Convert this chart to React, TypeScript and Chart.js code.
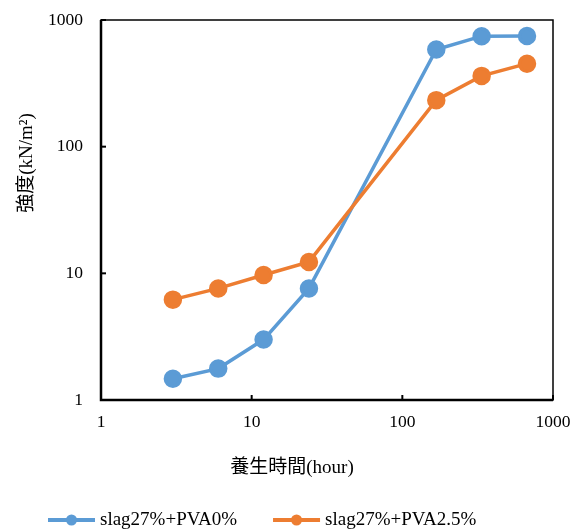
import React, { useEffect, useRef } from 'react';
import { Chart, registerables } from 'chart.js';

Chart.register(...registerables);

const hours = [3, 6, 12, 24, 168, 336, 672];
const pva0 = [1.47, 1.77, 3.0, 7.6, 585, 745, 748];
const pva25 = [6.2, 7.6, 9.7, 12.3, 233, 362, 452];
const tickValues = [1, 10, 100, 1000];
const seriesNames = ['slag27%+PVA0%', 'slag27%+PVA2.5%'];
const xTitle = '養生時間(hour)';
const yTitle = '強度(kN/m²)';

const BLUE = '#5B9BD5';
const ORANGE = '#ED7D31';
const FAMILY = "'Liberation Serif', 'Times New Roman', 'Noto Sans CJK JP', serif";
const colors = [BLUE, ORANGE];

const decorPlugin = {
  id: 'decor',
  beforeDatasetsDraw(chart: any) {
    const { ctx, chartArea: a, scales } = chart;
    ctx.save();
    ctx.strokeStyle = '#000';
    ctx.lineWidth = 1.5;
    ctx.strokeRect(a.left, a.top, a.right - a.left, a.bottom - a.top);
    ctx.lineWidth = 2.5;
    ctx.beginPath();
    ctx.moveTo(a.left, a.top);
    ctx.lineTo(a.left, a.bottom);
    ctx.lineTo(a.right, a.bottom);
    ctx.stroke();
    ctx.lineWidth = 2;
    tickValues.forEach((v) => {
      const px = scales.x.getPixelForValue(v);
      ctx.beginPath();
      ctx.moveTo(px, a.bottom);
      ctx.lineTo(px, a.bottom - 5);
      ctx.stroke();
      const py = scales.y.getPixelForValue(v);
      ctx.beginPath();
      ctx.moveTo(a.left, py);
      ctx.lineTo(a.left + 5, py);
      ctx.stroke();
    });
    ctx.restore();
  },
  afterDraw(chart: any) {
    const { ctx } = chart;
    ctx.save();
    ctx.fillStyle = '#000';
    ctx.font = `19px ${FAMILY}`;
    ctx.textAlign = 'center';
    ctx.textBaseline = 'middle';
    ctx.fillText(xTitle, 292, 468);
    ctx.save();
    ctx.translate(27, 163);
    ctx.rotate(-Math.PI / 2);
    ctx.fillText(yTitle, 0, 0);
    ctx.restore();

    // legend
    let x = 48;
    const y = 520;
    ctx.textAlign = 'left';
    seriesNames.forEach((name, i) => {
      ctx.strokeStyle = colors[i];
      ctx.fillStyle = colors[i];
      ctx.lineWidth = 4;
      ctx.beginPath();
      ctx.moveTo(x, y);
      ctx.lineTo(x + 47, y);
      ctx.stroke();
      ctx.beginPath();
      ctx.arc(x + 23.5, y, 5.5, 0, Math.PI * 2);
      ctx.fill();
      ctx.fillStyle = '#000';
      ctx.fillText(name, x + 52, y);
      x += 52 + ctx.measureText(name).width + 36;
    });
    ctx.restore();
  },
};

export default function App() {
  const ref = useRef<HTMLCanvasElement | null>(null);
  useEffect(() => {
    document.body.style.margin = '0';
    const canvas = ref.current!;
    const tickFont = { family: FAMILY, size: 17.5 };
    const chart = new Chart(canvas, {
      type: 'line',
      data: {
        datasets: [
          {
            label: seriesNames[0],
            data: hours.map((h, i) => ({ x: h, y: pva0[i] })),
            borderColor: BLUE,
            backgroundColor: BLUE,
            pointBackgroundColor: BLUE,
            pointBorderColor: BLUE,
            pointRadius: 7.5,
            borderWidth: 3.5,
            tension: 0,
            order: 1,
          },
          {
            label: seriesNames[1],
            data: hours.map((h, i) => ({ x: h, y: pva25[i] })),
            borderColor: ORANGE,
            backgroundColor: ORANGE,
            pointBackgroundColor: ORANGE,
            pointBorderColor: ORANGE,
            pointRadius: 7.5,
            borderWidth: 3.5,
            tension: 0,
            order: 0,
          },
        ],
      },
      options: {
        responsive: false,
        animation: false,
        layout: { padding: { left: 0, top: 20, right: 27, bottom: 0 } },
        plugins: { legend: { display: false }, tooltip: { enabled: false } },
        scales: {
          x: {
            type: 'logarithmic',
            min: 1,
            max: 1000,
            afterBuildTicks: (s: any) => {
              s.ticks = tickValues.map((v) => ({ value: v }));
            },
            afterFit: (s: any) => {
              s.height = 130;
              s.paddingLeft = 0;
              s.paddingRight = 0;
              s.paddingTop = 0;
              s.paddingBottom = 0;
            },
            grid: { display: false, drawTicks: false },
            border: { display: false },
            ticks: {
              padding: 12,
              font: tickFont,
              color: '#000',
              autoSkip: false,
              maxRotation: 0,
              callback: (v: any) => String(v),
            },
          },
          y: {
            type: 'logarithmic',
            min: 1,
            max: 1000,
            afterBuildTicks: (s: any) => {
              s.ticks = tickValues.map((v) => ({ value: v }));
            },
            afterFit: (s: any) => {
              s.width = 101;
              s.paddingLeft = 0;
              s.paddingRight = 0;
              s.paddingTop = 0;
              s.paddingBottom = 0;
            },
            grid: { display: false, drawTicks: false },
            border: { display: false },
            ticks: {
              padding: 18,
              font: tickFont,
              color: '#000',
              autoSkip: false,
              callback: (v: any) => String(v),
            },
          },
        },
      },
      plugins: [decorPlugin],
    } as any);
    return () => chart.destroy();
  }, []);
  return (
    <div style={{ position: 'fixed', left: 0, top: 0 }}>
      <canvas ref={ref} width={580} height={530} style={{ width: 580, height: 530 }} />
    </div>
  );
}
